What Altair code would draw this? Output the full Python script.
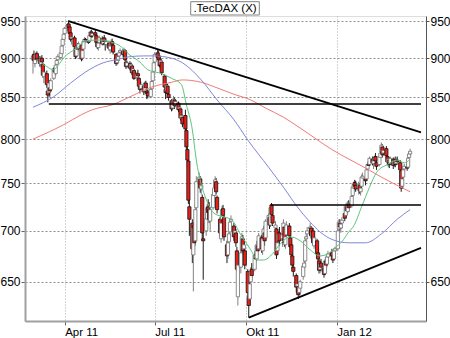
import altair as alt
import pandas as pd

# ---- daily candles .TecDAX, 28 Feb 2011 - 15 Mar 2012 (one line per week) ----
opens = [
    898, 905, 893, 900, 906,
    898, 892, 900, 892, 876,
    880, 858, 856, 862, 860,
    874, 887, 880, 892, 898,
    901, 906, 917, 925, 933,
    940, 946, 942, 934, 926,
    927, 913, 903, 914, 913,
    917, 900, 912, 922, 925,
    924, 922, 930, 935, 930,
    934, 930, 920, 914, 921,
    926, 919, 927, 920, 918,
    920, 911, 917, 922, 917,
    905, 894, 897, 903, 908,
    909, 906, 910, 895, 890,
    893, 888, 890, 882, 884,
    875, 880, 874, 863, 861,
    864, 858, 868, 858, 856,
    851, 861, 871, 883, 895,
    907, 903, 899, 892, 895,
    877, 860, 858, 864, 854,
    846, 837, 844, 847, 841,
    843, 836, 836, 824, 826,
    828, 810, 788, 775, 725,
    708, 676, 706, 690, 724,
    750, 755, 744, 735, 692,
    700, 712, 725, 722, 710,
    724, 737, 746, 752, 735,
    712, 692, 712, 723, 714,
    686, 676, 689, 699, 710,
    705, 697, 698, 680, 636,
    664, 680, 692, 682, 680,
    660, 636, 634, 650, 662,
    662, 676, 672, 685, 682,
    693, 680, 694, 698, 693,
    711, 714, 706, 727, 716,
    703, 702, 680, 690, 698,
    692, 697, 704, 686, 696,
    705, 693, 686, 675, 664,
    656, 646, 645, 640, 644,
    655, 664, 670, 692, 697,
    702, 703, 694, 700, 685,
    690, 678, 670, 662, 668,
    663, 658, 670, 667, 674,
    677, 678, 675, 672, 680,
    682, 702, 708, 703, 708,
    718, 716, 725, 720, 728,
    726, 737, 745, 751, 748,
    745, 748, 741, 747, 756,
    755, 755, 766, 771, 771,
    777, 772, 776, 780, 773,
    771, 779, 785, 791, 784,
    789, 780, 773, 776, 772,
    777, 771, 776, 772, 776,
    773, 764, 747, 757, 766,
    768, 768, 779, 783,
]
highs = [
    906, 910, 900, 908, 909,
    903, 902, 904, 894, 885,
    884, 866, 872, 872, 874,
    888, 890, 893, 900, 905,
    910, 918, 927, 935, 942,
    947, 951, 946, 938, 932,
    930, 916, 918, 920, 922,
    919, 912, 925, 928, 927,
    928, 932, 937, 938, 936,
    939, 932, 924, 922, 930,
    929, 928, 931, 924, 925,
    923, 919, 925, 926, 920,
    907, 901, 905, 910, 913,
    912, 914, 912, 899, 897,
    896, 895, 892, 889, 886,
    882, 885, 876, 868, 870,
    866, 870, 871, 862, 860,
    862, 872, 884, 896, 908,
    912, 910, 904, 901, 897,
    879, 864, 868, 867, 860,
    848, 846, 852, 850, 848,
    845, 842, 838, 832, 829,
    835, 812, 792, 778, 740,
    712, 710, 708, 728, 758,
    762, 758, 752, 738, 708,
    718, 728, 733, 730, 725,
    742, 748, 758, 756, 737,
    714, 712, 726, 727, 716,
    690, 692, 702, 712, 716,
    708, 705, 702, 684, 670,
    682, 698, 696, 690, 683,
    662, 640, 652, 664, 668,
    680, 680, 690, 688, 698,
    696, 696, 705, 700, 712,
    718, 716, 726, 729, 719,
    710, 705, 692, 700, 704,
    700, 712, 706, 698, 710,
    708, 697, 690, 679, 668,
    658, 652, 647, 648, 652,
    668, 672, 694, 698, 704,
    708, 705, 702, 703, 696,
    692, 684, 672, 670, 672,
    665, 672, 674, 676, 680,
    679, 682, 678, 682, 684,
    702, 712, 712, 710, 714,
    724, 728, 729, 731, 732,
    738, 748, 752, 754, 753,
    752, 750, 748, 760, 762,
    760, 768, 774, 776, 780,
    780, 778, 781, 784, 776,
    782, 786, 796, 794, 792,
    792, 783, 780, 779, 780,
    779, 778, 780, 779, 780,
    776, 766, 758, 768, 772,
    772, 780, 786, 789,
]
lows = [
    880, 895, 888, 897, 896,
    889, 888, 892, 875, 868,
    862, 844, 850, 851, 856,
    872, 878, 877, 887, 893,
    898, 903, 914, 921, 930,
    936, 938, 930, 922, 918,
    912, 899, 900, 908, 909,
    896, 897, 910, 918, 921,
    919, 920, 926, 927, 927,
    928, 918, 912, 910, 919,
    917, 917, 920, 910, 914,
    910, 906, 914, 915, 905,
    890, 891, 893, 900, 903,
    902, 903, 896, 886, 887,
    884, 885, 878, 879, 872,
    871, 874, 862, 855, 858,
    853, 856, 860, 848, 849,
    849, 859, 869, 881, 893,
    899, 896, 888, 889, 878,
    860, 848, 855, 852, 846,
    833, 834, 840, 836, 838,
    832, 830, 822, 818, 814,
    808, 788, 768, 728, 695,
    668, 641, 680, 685, 720,
    745, 740, 738, 690, 652,
    695, 706, 715, 708, 700,
    722, 730, 742, 738, 718,
    694, 688, 710, 712, 690,
    668, 672, 680, 695, 704,
    690, 690, 684, 660, 628,
    658, 678, 676, 670, 662,
    636, 617, 628, 648, 652,
    660, 668, 670, 676, 680,
    678, 676, 690, 685, 690,
    706, 702, 704, 714, 705,
    695, 672, 676, 680, 685,
    684, 694, 684, 682, 694,
    692, 680, 672, 662, 655,
    640, 638, 634, 636, 638,
    652, 660, 668, 686, 692,
    696, 692, 690, 686, 682,
    674, 670, 658, 658, 660,
    654, 656, 662, 664, 670,
    675, 672, 668, 670, 676,
    680, 700, 700, 698, 702,
    710, 714, 717, 718, 720,
    724, 735, 740, 744, 741,
    738, 739, 737, 745, 750,
    748, 753, 763, 766, 769,
    770, 766, 771, 772, 765,
    769, 774, 783, 779, 781,
    779, 770, 768, 767, 770,
    766, 768, 768, 770, 771,
    762, 741, 744, 755, 762,
    764, 766, 776, 780,
]
closes = [
    903, 897, 898, 905, 899,
    893, 899, 895, 878, 882,
    866, 853, 868, 858, 871,
    886, 882, 891, 897, 902,
    907, 916, 925, 932, 940,
    945, 941, 933, 925, 928,
    915, 902, 915, 912, 919,
    899, 910, 922, 925, 924,
    921, 930, 935, 929, 933,
    931, 921, 915, 920, 927,
    919, 926, 922, 918, 922,
    913, 916, 922, 918, 908,
    893, 898, 902, 907, 910,
    905, 911, 898, 889, 894,
    887, 892, 881, 886, 874,
    879, 877, 864, 860, 866,
    857, 868, 862, 855, 852,
    860, 870, 882, 894, 905,
    901, 898, 890, 897, 881,
    863, 856, 865, 855, 850,
    836, 843, 848, 840, 845,
    835, 838, 825, 828, 818,
    812, 791, 776, 732, 712,
    682, 703, 688, 722, 752,
    757, 745, 748, 698, 690,
    713, 724, 719, 712, 722,
    738, 745, 754, 741, 722,
    698, 708, 722, 716, 694,
    675, 688, 697, 709, 712,
    694, 700, 688, 662, 666,
    678, 694, 680, 686, 666,
    640, 628, 648, 660, 656,
    676, 672, 686, 680, 695,
    682, 692, 702, 690, 710,
    716, 706, 724, 717, 708,
    706, 676, 688, 697, 690,
    696, 708, 688, 694, 706,
    695, 684, 676, 666, 660,
    645, 648, 638, 645, 650,
    665, 668, 690, 694, 700,
    704, 695, 699, 688, 693,
    677, 672, 661, 667, 664,
    657, 670, 666, 674, 677,
    678, 675, 671, 680, 682,
    700, 709, 704, 707, 711,
    713, 726, 721, 729, 724,
    736, 746, 749, 747, 744,
    749, 742, 745, 757, 758,
    753, 765, 771, 770, 778,
    773, 775, 779, 775, 769,
    780, 784, 793, 782, 787,
    781, 774, 777, 771, 778,
    770, 775, 771, 776, 774,
    765, 745, 755, 765, 769,
    767, 778, 783, 786,
]
trade_days = pd.bdate_range("2011-02-28", "2012-03-15")

# ---- moving averages ----
green_dates = ["2011-03-08", "2011-03-14", "2011-03-21", "2011-03-25", "2011-04-01",
               "2011-04-07", "2011-04-15", "2011-04-22", "2011-05-02", "2011-05-10",
               "2011-05-19", "2011-05-26", "2011-06-06", "2011-06-16", "2011-06-24",
               "2011-07-08", "2011-07-18", "2011-07-28", "2011-08-02", "2011-08-08",
               "2011-08-12", "2011-08-17", "2011-08-22", "2011-08-29", "2011-09-06",
               "2011-09-16", "2011-09-26", "2011-10-06", "2011-10-13", "2011-10-19",
               "2011-10-28", "2011-11-04", "2011-11-15", "2011-11-25", "2011-12-05",
               "2011-12-15", "2011-12-23", "2011-12-30", "2012-01-06", "2012-01-13",
               "2012-01-18", "2012-01-26", "2012-02-03", "2012-02-10", "2012-02-21",
               "2012-03-02", "2012-03-09", "2012-03-15"]
green_vals = [894, 889, 885, 890, 902, 908, 915, 923, 924, 924,
              921, 917, 904, 895, 885, 880, 874, 866, 841, 811,
              776, 749, 733, 719, 715, 712, 696, 681, 671, 671,
              677, 686, 694, 690, 681, 675, 677, 683, 689, 699,
              705, 725, 746, 762, 771, 776, 773, 777]

blue_dates = ["2011-02-28", "2011-03-21", "2011-04-07", "2011-04-22", "2011-05-10",
              "2011-05-23", "2011-06-06", "2011-06-20", "2011-06-30", "2011-07-18",
              "2011-07-29", "2011-08-17", "2011-09-02", "2011-09-19", "2011-10-03",
              "2011-10-24", "2011-11-08", "2011-11-22", "2011-12-05", "2011-12-15",
              "2011-12-28", "2012-01-13", "2012-01-30", "2012-02-15", "2012-03-02",
              "2012-03-15"]
blue_vals = [838, 851, 868, 882, 894, 898, 902, 903, 903, 900,
             894, 872, 847, 823, 799, 768, 746, 725, 709, 699,
             691, 688, 688, 697, 712, 722]

red_dates = ["2011-02-28", "2011-03-31", "2011-04-18", "2011-04-29", "2011-05-19",
             "2011-06-08", "2011-06-28", "2011-07-18", "2011-07-29", "2011-08-17",
             "2011-09-02", "2011-09-19", "2011-10-06", "2011-10-21", "2011-11-08",
             "2011-11-25", "2011-12-27", "2012-01-30", "2012-02-15", "2012-03-15"]
red_vals = [800, 817, 829, 835, 841, 852, 863, 869, 872, 869,
            862, 854, 847, 837, 826, 813, 788, 767, 757, 741]

# ---- drawn trend / support lines ----
down_dates = ["2011-04-05", "2012-03-26"]
down_vals = [950, 808]
up_dates = ["2011-10-04", "2012-03-26"]
up_vals = [617, 683]
sup1_dates = ["2011-03-16", "2012-03-26"]
sup1_vals = [842, 842]
sup2_dates = ["2011-10-26", "2012-03-26"]
sup2_vals = [727, 727]

y_ticks = [650, 700, 750, 800, 850, 900, 950]
title_text = ".TecDAX (X)"

assert len(opens) == len(highs) == len(lows) == len(closes) == len(trade_days)

candles = pd.DataFrame({"date": trade_days, "open": opens, "high": highs,
                        "low": lows, "close": closes})

def series(dates, vals):
    return pd.DataFrame({"date": pd.to_datetime(dates), "v": vals})

W, H = 401, 305
FONT = "Liberation Sans"

x_scale = alt.Scale(domain=[alt.DateTime(year=2011, month=2, date=25),
                            alt.DateTime(year=2012, month=3, date=26)])
y_scale = alt.Scale(type="log", domain=[614, 957], nice=False)

x_axis = alt.Axis(
    values=[alt.DateTime(year=2011, month=4, date=1), alt.DateTime(year=2011, month=7, date=1),
            alt.DateTime(year=2011, month=10, date=1), alt.DateTime(year=2012, month=1, date=1)],
    labelExpr="replace(timeFormat(datum.value, '%b %y'), 'Oct', 'Okt')",
    labelAlign="left", labelOverlap=False, labelFlush=False,
    tickSize=4, tickColor="#666666", labelPadding=1, labelFontSize=11.5,
    grid=True, gridDash=[1, 2], gridColor="#a8a8a8",
    domainColor="#a0a0a0", domainWidth=2, title=None)

left_axis = alt.Axis(orient="left", values=y_ticks, format="d", grid=True,
                     gridDash=[2, 2], gridColor="#8c8c8c", tickSize=4, tickColor="#666666",
                     labelPadding=1, labelFontSize=12, domainColor="#a0a0a0",
                     domainWidth=2, title=None)
right_axis = alt.Axis(orient="right", values=y_ticks, format="d", grid=False,
                      tickSize=3, tickColor="#555555", labelPadding=1, labelFontSize=12,
                      domainColor="#555555", domainWidth=1, title=None)

X = alt.X("date:T", scale=x_scale, axis=x_axis)
up_test = "datum.close >= datum.open"

wicks = alt.Chart(candles).mark_rule(strokeWidth=1, clip=True).encode(
    x=X,
    y=alt.Y("low:Q", scale=y_scale, axis=left_axis),
    y2="high:Q",
    color=alt.condition(up_test, alt.value("#808080"), alt.value("#1a1a1a")),
)
bodies = alt.Chart(candles).mark_bar(size=3.2, strokeWidth=0.8, clip=True).encode(
    x=X,
    y=alt.Y("open:Q", scale=y_scale, axis=None),
    y2="close:Q",
    fill=alt.condition(up_test, alt.value("white"), alt.value("#ea1f1a")),
    stroke=alt.condition(up_test, alt.value("#707070"), alt.value("#111111")),
)

def ma(dates, vals, color, axis=None):
    return alt.Chart(series(dates, vals)).mark_line(
        color=color, strokeWidth=1, interpolate="monotone", clip=True).encode(
        x=X, y=alt.Y("v:Q", scale=y_scale, axis=axis))

red_line = ma(red_dates, red_vals, "#f07a78", right_axis)
blue_line = ma(blue_dates, blue_vals, "#7f87d8")
green_line = ma(green_dates, green_vals, "#5cc47e")

def straight(dates, vals, width):
    return alt.Chart(series(dates, vals)).mark_line(
        color="black", strokeWidth=width, clip=True).encode(
        x=X, y=alt.Y("v:Q", scale=y_scale, axis=None))

down_line = straight(down_dates, down_vals, 1.8)
up_line = straight(up_dates, up_vals, 1.8)
sup1 = straight(sup1_dates, sup1_vals, 1.5)
sup2 = straight(sup2_dates, sup2_vals, 1.5)

title_df = pd.DataFrame({"t": [title_text]})
title_box = alt.Chart(title_df).mark_rect(fill="white", stroke="#808080", strokeWidth=1).encode(
    x=alt.value(165.7), x2=alt.value(234.3), y=alt.value(-14.3), y2=alt.value(-1))
title_txt = alt.Chart(title_df).mark_text(font=FONT, fontSize=11.5, align="center",
                                          baseline="middle", color="black").encode(
    x=alt.value(200), y=alt.value(-7.5), text="t:N")

chart = alt.layer(
    wicks, bodies, red_line, blue_line, green_line,
    down_line, up_line, sup1, sup2, title_box, title_txt,
).resolve_axis(y="independent").properties(
    width=W, height=H,
    autosize=alt.AutoSizeParams(type="none"),
    padding={"left": 25, "top": 16, "right": 24, "bottom": 17},
).configure_view(stroke="#8a8a8a", strokeWidth=1).configure_axis(
    labelFont=FONT, labelColor="black"
).configure(background="white")

chart.save("out.html", embed_options={"renderer": "svg", "actions": False})
